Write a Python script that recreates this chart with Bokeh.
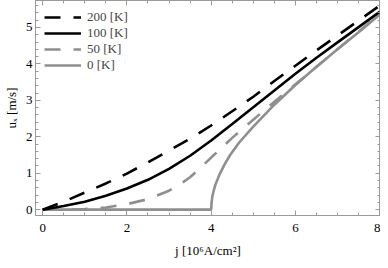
from bokeh.plotting import figure
from bokeh.models import FixedTicker, LinearAxis, Legend, LegendItem, Range1d
from bokeh.embed import file_html
from bokeh.resources import INLINE

# ---- data ----
j_200 = [0, 0.5, 1, 1.5, 2, 2.5, 3, 3.5, 4, 4.5, 5, 5.5, 6, 6.5, 7, 7.5, 8]
u_200 = [0, 0.22, 0.47, 0.72, 0.99, 1.30, 1.62, 1.95, 2.31, 2.70, 3.10, 3.53, 3.95, 4.37, 4.78, 5.19, 5.60]

j_100 = [0, 0.5, 1, 1.5, 2, 2.5, 3, 3.5, 4, 4.5, 5, 5.5, 6, 6.5, 7, 7.5, 8]
u_100 = [0, 0.10, 0.22, 0.38, 0.58, 0.82, 1.12, 1.48, 1.90, 2.35, 2.81, 3.27, 3.73, 4.17, 4.59, 5.01, 5.43]

j_50 = [0, 0.5, 1, 1.5, 2, 2.5, 3, 3.25, 3.5, 3.75, 4, 4.5, 5, 5.5, 6, 6.5, 7, 7.5, 8]
u_50 = [0, 0.005, 0.02, 0.06, 0.15, 0.29, 0.52, 0.69, 0.89, 1.15, 1.43, 1.97, 2.47, 2.96, 3.44, 3.92, 4.40, 4.88, 5.37]

j_0 = [0, 1, 2, 3, 4.0, 4.01, 4.03, 4.06, 4.1, 4.2, 4.3, 4.45, 4.67, 5.0, 5.5, 6.0, 6.5, 7.0, 7.5, 8.0]
u_0 = [0, 0, 0, 0, 0, 0.20, 0.38, 0.52, 0.68, 0.97, 1.20, 1.50, 1.85, 2.28, 2.88, 3.42, 3.92, 4.40, 4.87, 5.35]

labels = ["200 [K]", "100 [K]", "50 [K]", "0 [K]"]
x_major = [0, 2, 4, 6, 8]
y_major = [0, 1, 2, 3, 4, 5]

BLACK = "#000000"
GRAY = "#8f8f8f"
AX = "#9a9a9a"
FONT = "'Liberation Serif', 'DejaVu Serif', serif"

p = figure(width=380, height=260, output_backend="svg", toolbar_location=None,
           x_range=Range1d(-0.17, 8.02), y_range=Range1d(-0.16, 5.74),
           min_border_top=0, min_border_right=0, min_border_bottom=43, min_border_left=10)
p.xgrid.visible = False
p.ygrid.visible = False
p.outline_line_color = AX
p.outline_line_width = 1
p.background_fill_color = "white"
p.border_fill_color = "white"

x_minor = [i * 0.5 for i in range(0, 17)]
y_minor = [round(i * 0.2, 2) for i in range(0, 29)]

def style_axis(ax, ticks, minor):
    ax.ticker = FixedTicker(ticks=ticks, minor_ticks=minor)
    ax.axis_line_color = AX
    ax.major_tick_line_color = AX
    ax.minor_tick_line_color = AX
    ax.major_tick_in = 5
    ax.major_tick_out = 0
    ax.minor_tick_in = 3
    ax.minor_tick_out = 0
    ax.major_label_text_font = FONT
    ax.major_label_text_font_size = "13px"
    ax.major_label_text_color = "black"
    ax.axis_label_text_font = FONT
    ax.axis_label_text_font_size = "13px"
    ax.axis_label_text_font_style = "normal"
    ax.axis_label_text_color = "black"

style_axis(p.xaxis[0], x_major, x_minor)
style_axis(p.yaxis[0], y_major, y_minor)
p.xaxis[0].major_label_standoff = 8
p.xaxis[0].axis_label = "j [10⁶A/cm²]"
p.xaxis[0].axis_label_standoff = 8
p.yaxis[0].major_label_standoff = 3
p.yaxis[0].axis_label = "uₓ [m/s]"
p.yaxis[0].axis_label_standoff = 4

top = LinearAxis()
style_axis(top, x_major, x_minor)
top.major_label_overrides = {t: "" for t in x_major}
top.major_label_standoff = 0
right = LinearAxis()
style_axis(right, y_major, y_minor)
right.major_label_overrides = {t: "" for t in y_major}
right.major_label_standoff = 0
p.add_layout(top, "above")
p.add_layout(right, "right")

r0 = p.line(j_0, u_0, line_color=GRAY, line_width=2.6)
r50 = p.line(j_50, u_50, line_color=GRAY, line_width=2.6, line_dash="16 13")
r100 = p.line(j_100, u_100, line_color=BLACK, line_width=2.6)
r200 = p.line(j_200, u_200, line_color=BLACK, line_width=2.6, line_dash="16 13")

legend = Legend(items=[LegendItem(label=labels[0], renderers=[r200]),
                       LegendItem(label=labels[1], renderers=[r100]),
                       LegendItem(label=labels[2], renderers=[r50]),
                       LegendItem(label=labels[3], renderers=[r0])],
                location="top_left")
legend.background_fill_alpha = 0
legend.border_line_alpha = 0
legend.margin = 2
legend.padding = 7
legend.spacing = 0
legend.glyph_width = 37
legend.glyph_height = 14
legend.label_height = 14
legend.label_standoff = 6
legend.label_text_font = FONT
legend.label_text_font_size = "13px"
p.add_layout(legend)

open("out.html", "w").write(file_html(p, INLINE))
